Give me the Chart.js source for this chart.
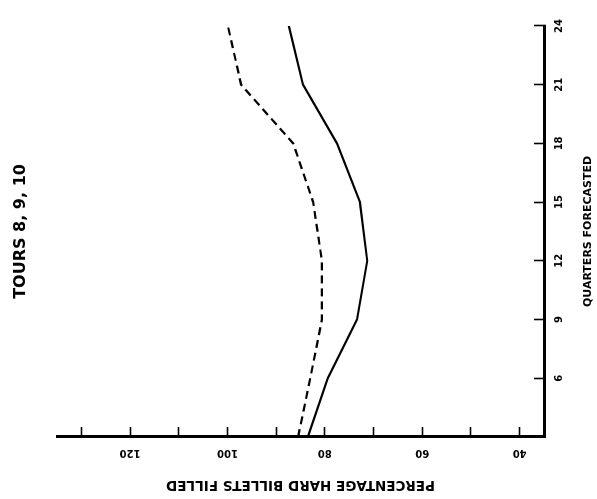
<!DOCTYPE html>
<html><head><meta charset="utf-8">
<script src="https://cdn.jsdelivr.net/npm/chart.js@4.4.1/dist/chart.umd.min.js"></script>
<style>
html,body{margin:0;padding:0;background:#fff;overflow:hidden;width:597px;height:499px;}
#wrap{position:absolute;left:0;top:0;width:499px;height:597px;transform-origin:0 0;transform:translateY(499px) rotate(-90deg);background:#fff;}
canvas{display:block;}
</style></head><body>
<div id="wrap"><canvas id="c" width="499" height="597"></canvas></div>
<script>
// Data read from the (rotated) reference chart
const quarters = [3, 6, 9, 12, 15, 18, 21, 24];
const solidSeries = [83.5, 79.4, 73.4, 71.3, 72.8, 77.5, 84.5, 87.4];
const dashedSeries = [85.5, 83.0, 80.6, 80.6, 82.4, 86.5, 97.2, 99.9];
const quarterTicks = [6, 9, 12, 15, 18, 21, 24];
const percentTicks = [40, 50, 60, 70, 80, 90, 100, 110, 120, 130];
const percentLabels = [40, 60, 80, 100, 120];
const titleText = 'TOURS 8, 9, 10';
const xTitle = 'QUARTERS FORECASTED';
const yTitle = 'PERCENTAGE HARD BILLETS FILLED';

const FAM = "'DejaVu Sans', sans-serif";
Chart.defaults.color = '#000';

const toPts = (vals) => quarters.map((q, i) => ({x: q, y: vals[i]}));

new Chart(document.getElementById('c'), {
  type: 'line',
  data: {
    datasets: [
      {data: toPts(solidSeries), borderColor: '#000', borderWidth: 2.2, pointRadius: 0, tension: 0, fill: false},
      {data: toPts(dashedSeries), borderColor: '#000', borderWidth: 2.2, borderDash: [8, 5], pointRadius: 0, tension: 0, fill: false}
    ]
  },
  options: {
    responsive: false,
    devicePixelRatio: 1,
    animation: false,
    layout: {padding: {left: 0, right: 14, top: 0, bottom: 0}},
    plugins: {
      legend: {display: false},
      tooltip: {enabled: false},
      title: {
        display: true, text: titleText, fullSize: false, color: '#000',
        font: {family: FAM, size: 16, weight: 'bold'},
        padding: {top: 11.4, bottom: 26.4}
      }
    },
    scales: {
      x: {
        type: 'linear', min: 3, max: 24,
        afterBuildTicks: (s) => { s.ticks = quarterTicks.map(v => ({value: v})); },
        afterFit: (s) => { s.height = 53; },
        grid: {drawOnChartArea: false, drawTicks: true, tickLength: -10, tickWidth: 1.6, color: '#000'},
        border: {display: true, width: 3, color: '#000'},
        ticks: {autoSkip: false, maxRotation: 0, minRotation: 0, padding: 19, color: '#000',
          font: {family: FAM, size: 10, weight: 'bold'}},
        title: {display: true, text: xTitle, color: '#000', font: {family: FAM, size: 11, weight: 'bold'},
          padding: {top: 0, bottom: 2}}
      },
      y: {
        type: 'linear', min: 35, max: 135,
        afterBuildTicks: (s) => { s.ticks = percentTicks.map(v => ({value: v})); },
        afterFit: (s) => { s.width = 62; },
        grid: {drawOnChartArea: false, drawTicks: true, tickLength: -10, tickWidth: 1.6, color: '#000'},
        border: {display: true, width: 3, color: '#000'},
        ticks: {autoSkip: false, minRotation: 90, maxRotation: 90, crossAlign: 'center', padding: 15, color: '#000',
          font: {family: FAM, size: 10, weight: 'bold'},
          callback: (v) => percentLabels.includes(v) ? String(v) : ''},
        title: {display: true, text: yTitle, color: '#000', font: {family: FAM, size: 13.5, weight: 'bold'},
          padding: {top: 6, bottom: 0}}
      }
    }
  }
});
</script>
</body></html>
